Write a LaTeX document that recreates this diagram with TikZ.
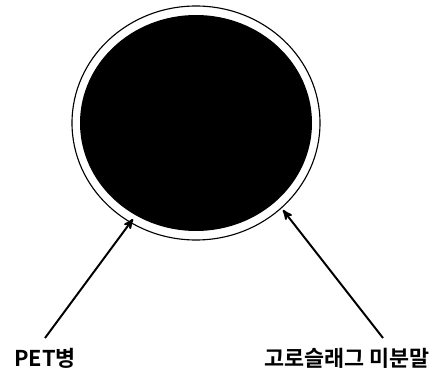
\documentclass[tikz,border=0pt]{standalone}
\usepackage{fontspec}
\newfontfamily\krfont{Noto Sans CJK KR}[BoldFont={Noto Sans CJK KR Bold}]
\usetikzlibrary{arrows}

\begin{document}
\begin{tikzpicture}[x=0.025cm,y=-0.025cm]
    \tikzset{label2/.style = {shape=rectangle,draw=none,inner sep=0pt,font=\krfont\bfseries\fontsize{15.5}{17}\selectfont}}
    \tikzset{edge/.style = {->,> = stealth',line width=1.4pt}}

    \useasboundingbox (0,0) rectangle (440,380);

    % ring
    \draw[line width=0.8pt] (196,123) ellipse [x radius=124, y radius=117];
    \fill[black] (196,123) ellipse [x radius=116, y radius=108];

    % vertices

    \coordinate (p) at (133,219);
    \coordinate (s) at (283,210);
    \coordinate (pt) at (45,338);
    \coordinate (st) at (383,338);

    \node[label2] (pet) at (45,358) {PET병};
    \node[label2] (slag) at (347,358) {고로슬래그 미분말};

    \draw[edge] (pt) to (p);
    \draw[edge] (st) to (s);
\end{tikzpicture}
\end{document}
